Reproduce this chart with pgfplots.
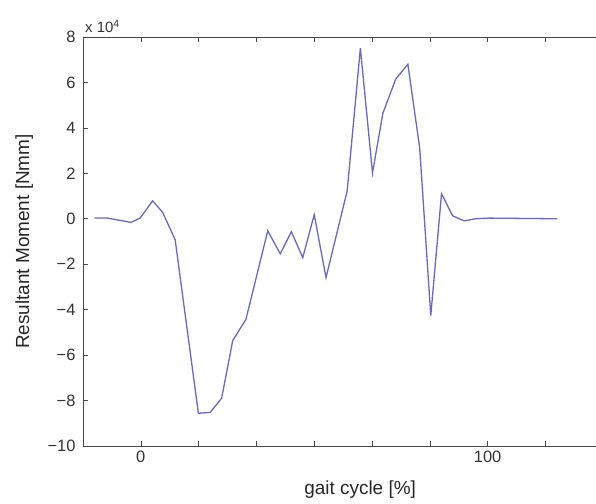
\documentclass[border=0pt]{standalone}
\usepackage{fontspec}
\setmainfont{Liberation Sans}
\usepackage{pgfplots}
\pgfplotsset{compat=1.18}
\definecolor{curve}{RGB}{105,105,190}
\definecolor{axgray}{RGB}{70,70,70}
\begin{document}
\begin{tikzpicture}
\begin{axis}[
  name=ax,
  scale only axis,
  width=543.4bp, height=409bp,
  xmin=-16.6667, xmax=140,
  ymin=-100000, ymax=80000,
  xtick={-16.6667,0,16.6667,33.3333,50,66.6667,83.3333,100,116.6667,133.3333},
  xticklabels={,0,,,,,,100,,},
  ytick={-100000,-80000,...,80000},
  yticklabels={−10,−8,−6,−4,−2,0,2,4,6,8},
  scaled y ticks=false,
  tick align=inside,
  major tick length=5bp,
  tick style={axgray, line width=0.6bp},
  axis line style={axgray, line width=0.9bp},
  ticklabel style={font=\fontsize{16.5}{16.5}\selectfont, text=black!80},
  xticklabel style={yshift=-2bp},
  yticklabel style={xshift=-4bp},
  xlabel={gait cycle [\%]},
  ylabel={Resultant Moment [Nmm]},
  label style={font=\fontsize{19}{19}\selectfont, text=black!85},
  xlabel style={at={(axis description cs:0.51,-0.1076)}, anchor=center},
  ylabel style={at={(axis description cs:-0.108,0.5)}, anchor=center},
]
\addplot[curve, line width=1.3bp] coordinates {
  (-13.4,300) (-9.6,300) (-2.8,-1600) (-0.2,300) (3.4,7900) (6.3,2800)
  (9.9,-9200) (16.6,-85600) (20.0,-85200) (23.3,-79000) (26.5,-53600)
  (30.3,-44300) (36.6,-5300) (40.2,-15400) (43.4,-5700) (46.7,-17100)
  (50.0,1800) (53.4,-25900) (59.5,12300) (63.3,75100) (66.8,20200)
  (69.8,46500) (73.5,61500) (77.0,68000) (80.4,31200) (83.6,-42600)
  (86.7,11000) (89.9,1300) (93.2,-900) (96.5,0) (100.3,300) (120.1,0)
};
\end{axis}
\node[anchor=south west, inner sep=0pt, font=\fontsize{15}{15}\selectfont, text=black!80]
  at ([xshift=2bp, yshift=4bp]ax.north west) {x 10\textsuperscript{4}};
\pgfresetboundingbox
\path[use as bounding box] ([xshift=-83bp,yshift=-58bp]ax.south west) rectangle ++(596bp,504bp);
\end{tikzpicture}
\end{document}
